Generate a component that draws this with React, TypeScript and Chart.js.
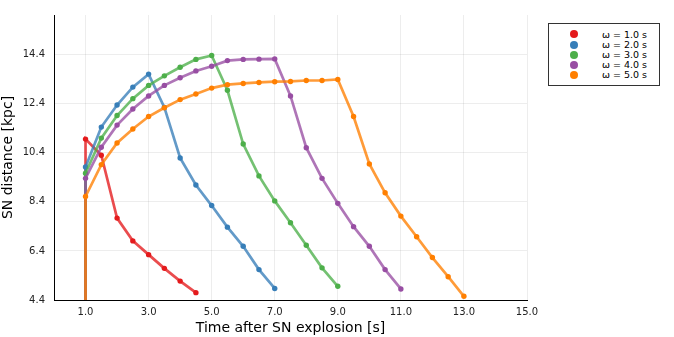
import React, { useEffect, useRef } from "react";
import { Chart, registerables } from "chart.js";
Chart.register(...registerables);

const timeGrid = [1.0, 1.0, 1.5, 2.0, 2.5, 3.0, 3.5, 4.0, 4.5, 5.0, 5.5, 6.0, 6.5, 7.0, 7.5, 8.0, 8.5, 9.0, 9.5, 10.0, 10.5, 11.0, 11.5, 12.0, 12.5, 13.0];
const seriesLabels = ["ω = 1.0 s", "ω = 2.0 s", "ω = 3.0 s", "ω = 4.0 s", "ω = 5.0 s"];
const distOmega1 = [0, 10.96, 10.3, 7.74, 6.81, 6.25, 5.69, 5.17, 4.7];
const distOmega2 = [0, 9.82, 11.45, 12.35, 13.08, 13.61, 12.25, 10.19, 9.09, 8.25, 7.37, 6.59, 5.64, 4.87];
const distOmega3 = [0, 9.57, 11.0, 11.92, 12.61, 13.15, 13.54, 13.89, 14.21, 14.37, 12.95, 10.76, 9.46, 8.44, 7.55, 6.63, 5.71, 4.96];
const distOmega4 = [0, 9.36, 10.63, 11.53, 12.19, 12.72, 13.15, 13.46, 13.74, 13.93, 14.16, 14.21, 14.22, 14.23, 12.72, 10.61, 9.36, 8.34, 7.39, 6.59, 5.64, 4.85];
const distOmega5 = [0, 8.62, 9.92, 10.8, 11.37, 11.88, 12.24, 12.57, 12.8, 13.04, 13.18, 13.23, 13.27, 13.3, 13.31, 13.35, 13.35, 13.39, 11.88, 9.95, 8.77, 7.82, 6.98, 6.13, 5.35, 4.55];
const xTicks = [1.0, 3.0, 5.0, 7.0, 9.0, 11.0, 13.0, 15.0];
const yTicks = [4.4, 6.4, 8.4, 10.4, 12.4, 14.4];
const xTitle = "Time after SN explosion [s]";
const yTitle = "SN distance [kpc]";

const allSeries = [distOmega1, distOmega2, distOmega3, distOmega4, distOmega5];
const colors = ["228,26,28", "55,126,184", "77,175,74", "152,78,163", "255,127,0"];
const FONT = "'DejaVu Sans', sans-serif";

export default function App() {
  const ref = useRef<HTMLCanvasElement | null>(null);
  useEffect(() => {
    if (!ref.current) return;
    const datasets = allSeries.map((vals, si) => ({
      label: seriesLabels[si],
      data: vals.map((v, i) => ({ x: timeGrid[i], y: v })),
      borderColor: `rgba(${colors[si]},0.78)`,
      backgroundColor: `rgb(${colors[si]})`,
      pointBackgroundColor: `rgb(${colors[si]})`,
      pointBorderWidth: 0,
      pointRadius: vals.map((_, i) => (i === 0 ? 0 : 2.7)),
      borderWidth: 2.7,
      tension: 0,
      order: allSeries.length - 1 - si,
    }));
    const chart = new Chart(ref.current, {
      type: "line",
      data: { datasets },
      options: {
        animation: false,
        responsive: false,
        devicePixelRatio: 1,
        layout: { padding: { top: 13, right: 147, left: 0, bottom: 0 } },
        plugins: { legend: { display: false }, tooltip: { enabled: false } },
        scales: {
          x: {
            type: "linear",
            min: 0,
            max: 15,
            afterBuildTicks: (s: any) => {
              s.ticks = xTicks.map((v) => ({ value: v }));
            },
            afterFit: (s: any) => {
              s.height = 37;
            },
            ticks: {
              callback: (v: any) => Number(v).toFixed(1),
              font: { family: FONT, size: 10 },
              color: "#222",
              padding: 6,
              maxRotation: 0,
              autoSkip: false,
            },
            grid: { color: "rgba(0,0,0,0.07)", lineWidth: 1, drawTicks: false },
            border: { display: true, color: "#000", width: 1 },
            title: {
              display: true,
              text: xTitle,
              font: { family: FONT, size: 14 },
              color: "#000",
              padding: { top: 0, bottom: 0 },
            },
          },
          y: {
            type: "linear",
            min: 4.4,
            max: 16.02,
            afterBuildTicks: (s: any) => {
              s.ticks = yTicks.map((v) => ({ value: v }));
            },
            afterFit: (s: any) => {
              s.width = 54;
            },
            ticks: {
              callback: (v: any) => Number(v).toFixed(1),
              font: { family: FONT, size: 10 },
              color: "#222",
              padding: 9,
              autoSkip: false,
            },
            grid: { color: "rgba(0,0,0,0.07)", lineWidth: 1, drawTicks: false },
            border: { display: true, color: "#000", width: 1 },
            title: {
              display: true,
              text: yTitle,
              font: { family: FONT, size: 14 },
              color: "#000",
              padding: { top: 0, bottom: 0 },
            },
          },
        },
      },
    } as any);
    return () => chart.destroy();
  }, []);

  return (
    <div style={{ position: "absolute", left: 0, top: 0, width: 674, height: 337, background: "#fff" }}>
      <canvas ref={ref} width={674} height={337} style={{ width: 674, height: 337, display: "block" }} />
      <div
        style={{
          position: "absolute",
          left: 548,
          top: 23,
          width: 112,
          height: 63,
          boxSizing: "border-box",
          border: "1px solid #333",
          background: "#fff",
          fontFamily: FONT,
          fontSize: 9.5,
          color: "#000",
        }}
      >
        {seriesLabels.map((lab, i) => (
          <div key={lab}>
            <div
              style={{
                position: "absolute",
                left: 21,
                top: 6.3 + i * 10.2,
                width: 8,
                height: 8,
                borderRadius: "50%",
                background: `rgb(${colors[i]})`,
              }}
            />
            <div
              style={{
                position: "absolute",
                left: 53,
                top: 4.5 + i * 10.2,
                lineHeight: "11px",
                whiteSpace: "nowrap",
              }}
            >
              {lab}
            </div>
          </div>
        ))}
      </div>
    </div>
  );
}
